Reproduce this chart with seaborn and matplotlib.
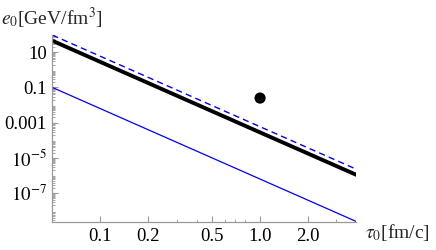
import numpy as np
import pandas as pd
import matplotlib
matplotlib.use("Agg")
import matplotlib.pyplot as plt
import matplotlib.ticker as mticker
import seaborn as sns

# values (log-log, straight lines)
tau = [0.05, 1.0, 4.0]
e_black = [45.0, 2.8e-4, 1.1e-6]
e_dashed = [94.0, 5.9e-4, 2.3e-6]
e_thin = [0.1, 6.3e-7, 2.46e-9]
point_tau = [1.0]
point_e = [0.025]

xticks = [0.1, 0.2, 0.5, 1.0, 2.0]
xticklabels = ["0.1", "0.2", "0.5", "1.0", "2.0"]
yticks = [10, 0.1, 1e-3, 1e-5, 1e-7]
yticklabels = ["10", "0.1", "0.001", r"$10^{-5}$", r"$10^{-7}$"]

sns.set_style("ticks")
plt.rcParams["font.family"] = ["Liberation Serif", "DejaVu Serif"]
plt.rcParams["mathtext.fontset"] = "stix"

df = pd.DataFrame({"tau": tau, "black": e_black, "dashed": e_dashed, "thin": e_thin})

fig = plt.figure(figsize=(4.36, 2.5), dpi=100)
ax = fig.add_axes([0.12, 0.112, 0.697, 0.748])

sns.lineplot(data=df, x="tau", y="thin", ax=ax, color="blue", lw=0.9)
sns.lineplot(data=df, x="tau", y="dashed", ax=ax, color="blue", lw=1.0,
             dashes=False, linestyle=(0, (4.5, 3)))
sns.lineplot(data=df, x="tau", y="black", ax=ax, color="black", lw=2.8)
sns.scatterplot(x=point_tau, y=point_e, ax=ax, color="black", s=65,
                edgecolor="none", zorder=5)

ax.set_xscale("log")
ax.set_yscale("log")
ax.set_xlim(0.05, 4.0)
ax.set_ylim(2.3e-9, 95)

ax.set_xticks(xticks)
ax.set_xticklabels(xticklabels)
ax.xaxis.set_minor_locator(mticker.FixedLocator([0.3, 0.4, 0.6, 0.7, 0.8, 3.0]))
ax.xaxis.set_minor_formatter(mticker.NullFormatter())
ax.set_yticks(yticks)
ax.set_yticklabels(yticklabels)
ax.yaxis.set_minor_locator(mticker.LogLocator(base=10, subs=np.arange(2, 10), numticks=30))
ax.yaxis.set_minor_formatter(mticker.NullFormatter())

ax.tick_params(which="both", direction="in", color="#999999", labelsize=13.5,
               labelcolor="black", pad=4)
ax.tick_params(which="major", length=4, width=0.8)
ax.tick_params(which="minor", length=2, width=0.6)

sns.despine(ax=ax)
for s in ["left", "bottom"]:
    ax.spines[s].set_color("#999999")
    ax.spines[s].set_linewidth(0.9)

ax.set_xlabel("")
ax.set_ylabel("")
fig.text(0.003, 0.928, r"$e_0$[GeV/fm$^3$]", fontsize=14, ha="left", va="center")
fig.text(0.838, 0.07, r"$\tau_0$[fm/c]", fontsize=14, ha="left", va="center")

fig.savefig("out.png", dpi=100)
